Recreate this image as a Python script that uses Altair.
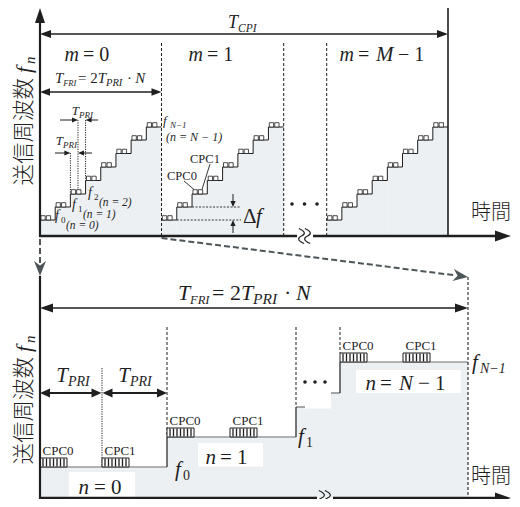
import altair as alt
import pandas as pd

INK = "#1f1f1f"
FILL = "#edf0f2"
LEVEL = "#6f6f6f"
ZOOMC = "#4e565a"
SERIF = "Liberation Serif, Times New Roman, DejaVu Serif, serif"
CJK = "Noto Sans CJK JP, Noto Sans CJK SC, sans-serif"

# ---------------- values (picture pixel units) ----------------
TOP_AXIS_Y = 236
TOP_FRAMES = ["m = 0", "m = 1", "m = M − 1"]
TOP_FRAME_X = [(40.0, 161.5), (161.5, 283.7), (326.7, 448.0)]
TOP_LEVELS = [220, 207, 194, 180.5, 167, 153.5, 140, 127]

BOT_AXIS_Y = 498
BOT_STEPS = ["n = 0", "n = 1", "n = 2", "n = N − 2", "n = N − 1"]
BOT_X = [(40, 167), (167, 296), (296, 318), (318, 340), (340, 468)]
BOT_LEVELS = [467, 437, 407, 393, 362]
CPC_X = [40, 102, 167, 230, 340, 403]
CPC_LEVEL = [467, 467, 437, 437, 362, 362]
CPC_NAMES = ["CPC0", "CPC1", "CPC0", "CPC1", "CPC0", "CPC1"]

XS = alt.Scale(domain=[8, 512], nice=False, zero=False)
YS = alt.Scale(domain=[8, 499], nice=False, zero=False, reverse=True)


def exy():
    return dict(x=alt.X("x:Q", scale=XS, axis=None), y=alt.Y("y:Q", scale=YS, axis=None))


def rule_layer(rows, color=INK, dash=None):
    df = pd.DataFrame(rows, columns=["x", "y", "x2", "y2", "w"])
    kw = {"color": color}
    if dash:
        kw["strokeDash"] = dash
    return alt.Chart(df).mark_rule(**kw).encode(
        **exy(), x2="x2:Q", y2="y2:Q", size=alt.Size("w:Q", scale=None))


def rect_layer(rows, fill, stroke=None, sw=0.0):
    df = pd.DataFrame(rows, columns=["x", "y", "x2", "y2"])
    kw = {"fill": fill, "opacity": 1}
    if stroke:
        kw.update(stroke=stroke, strokeWidth=sw)
    return alt.Chart(df).mark_rect(**kw).encode(**exy(), x2="x2:Q", y2="y2:Q")


TEXTS = []


def txt(t, x, y, s, style="italic", align="left", font=SERIF, base="alphabetic", angle=0, weight=400):
    TEXTS.append(dict(t=t, x=x, y=y, s=s, style=style, align=align, font=font, base=base,
                      angle=angle, weight=weight))


HEADS = []


def head(x, y, ang, length, half, kind="solid", color=INK):
    r = 2.0 * half / length
    if kind == "solid":
        p = f"M0,0L-2,{-r:.3f}L-2,{r:.3f}Z"
    else:
        p = f"M0,0L-2,{-r:.3f}L-1.4,0L-2,{r:.3f}Z"
    HEADS.append(dict(x=x, y=y, a=ang, shape=p, s=length ** 2, c=color))


layers = []

# ---------------- fills ----------------
fill_rows = []
nst = len(TOP_LEVELS)
for (x0, x1) in TOP_FRAME_X:
    w = (x1 - x0) / nst
    for k, L in enumerate(TOP_LEVELS):
        fill_rows.append((x0 + k * w, L, x0 + (k + 1) * w, TOP_AXIS_Y))
for (xa, xb), L in zip(BOT_X, BOT_LEVELS):
    fill_rows.append((xa, L, xb, BOT_AXIS_Y))
layers.append(rect_layer(fill_rows, FILL, FILL, 0.6))

# bottom level lines and risers
lev_rows = [(xa, L, xb, L, 1.2) for (xa, xb), L in zip(BOT_X, BOT_LEVELS)]
layers.append(rule_layer(lev_rows, LEVEL))
ris_rows = [(BOT_X[i][1], BOT_LEVELS[i], BOT_X[i][1], BOT_LEVELS[i + 1], 1.2) for i in range(len(BOT_X) - 1)]
layers.append(rule_layer(ris_rows, INK))

# white label boxes
layers.append(rect_layer([(69, 472, 135, 497), (198, 443, 263, 466.5), (356, 370, 461, 393),
                          (305, 366, 331, 408.5)], "white"))

# ---------------- dashed / dotted lines ----------------
f1x0, f1x1 = TOP_FRAME_X[1]
w1 = (f1x1 - f1x0) / nst
dash_rows = [(x, 43, x, TOP_AXIS_Y, 1.0) for x in (161.5, 283.7, 326.7)]
dash_rows += [(468, 277, 468, BOT_AXIS_Y, 1.1), (167, 327, 167, 437, 1.0), (296, 327, 296, 407, 1.0),
              (340, 327, 340, 353, 1.0)]
layers.append(rule_layer(dash_rows, INK, [3, 2]))

f0x0, f0x1 = TOP_FRAME_X[0]
w0 = (f0x1 - f0x0) / nst
b2 = f0x0 + 2 * w0
mid2 = b2 + w0 / 2
b3 = f0x0 + 3 * w0
dot_rows = [(b2, 153, b2, TOP_LEVELS[2], 1.0), (mid2, 120, mid2, TOP_LEVELS[2], 1.0),
            (b3, 120, b3, TOP_LEVELS[3], 1.0), (102, 368, 102, 467, 1.0)]
layers.append(rule_layer(dot_rows, INK, [1.2, 1.2]))

df_rows = [(f1x0 + 2 * w1, TOP_LEVELS[1], 241, TOP_LEVELS[1], 0.9),
           (f1x0 + w1, TOP_LEVELS[0], 241, TOP_LEVELS[0], 0.9)]
layers.append(rule_layer(df_rows, INK, [2, 1.5]))

zoom_rows = [(40, 239, 40, 263, 2.0), (161.5, 238, 455, 275.3, 2.0)]
layers.append(rule_layer(zoom_rows, ZOOMC, [6, 3]))
head(40, 276, 90, 15, 6, "stealth", ZOOMC)
head(468, 277, 7.4, 15, 6, "stealth", ZOOMC)

# ---------------- staircases (top) ----------------
pts = []
for f, (x0, x1) in enumerate(TOP_FRAME_X):
    w = (x1 - x0) / nst
    i = 0
    for k, L in enumerate(TOP_LEVELS):
        pts.append(dict(g=f, i=i, x=x0 + k * w, y=L)); i += 1
        pts.append(dict(g=f, i=i, x=x0 + (k + 1) * w, y=L)); i += 1
layers.append(alt.Chart(pd.DataFrame(pts)).mark_line(color=INK, strokeWidth=1).encode(
    **exy(), detail="g:N", order="i:Q"))

# small CPC squares on every step (top)
sq_rows = []
for (x0, x1) in TOP_FRAME_X:
    w = (x1 - x0) / nst
    for k, L in enumerate(TOP_LEVELS):
        sx = x0 + k * w
        sq_rows.append((sx + 0.9, L - 4.3, sx + 5.2, L))
        sq_rows.append((sx + 6.3, L - 4.3, sx + 10.6, L))
layers.append(rect_layer(sq_rows, "white", INK, 0.8))

# hatched CPC blocks (bottom)
blk_rows = [(x, L - 9, x + 27, L) for x, L in zip(CPC_X, CPC_LEVEL)]
layers.append(rect_layer(blk_rows, "white", INK, 1.0))
stripe_rows = []
for x, L in zip(CPC_X, CPC_LEVEL):
    for j in range(7):
        xs = x + 3.0 + j * 3.5
        stripe_rows.append((xs, L - 8.5, xs, L - 0.5, 1.3))
layers.append(rule_layer(stripe_rows, INK))

# ---------------- solid lines: axes, arrows, leaders ----------------
solid = [
    (40, 22, 40, 237, 2.2),
    (39, TOP_AXIS_Y, 297, TOP_AXIS_Y, 2.4), (313, TOP_AXIS_Y, 498, TOP_AXIS_Y, 2.4),
    (448, 8, 448, TOP_AXIS_Y, 1.6),
    (44, 34, 444, 34, 1.3),
    (44, 92, 157, 92, 1.3),
    (60, 120, mid2 - 4, 120, 1.0), (98, 120, b3 + 4, 120, 1.0),
    (55, 153, b2 - 4, 153, 1.0), (92, 153, mid2 + 4, 153, 1.0),
    (233, 194, 233, 203, 1.0), (233, 233, 233, 224, 1.0),
    (184, 181, 194, 189.5, 0.9), (210, 164, 202, 189.5, 0.9),
    (40, 276, 40, 499, 2.2),
    (39, BOT_AXIS_Y, 317, BOT_AXIS_Y, 2.4), (333, BOT_AXIS_Y, 498, BOT_AXIS_Y, 2.4),
    (46, 308, 462, 308, 1.4),
    (46, 393, 96, 393, 2.0), (108, 393, 161, 393, 2.0),
]
layers.append(rule_layer(solid, INK))

# arrowheads
head(40, 8, 270, 15, 5)
head(511, TOP_AXIS_Y, 0, 16, 5.5)
head(511, BOT_AXIS_Y, 0, 16, 5.5)
head(40, 34, 180, 11, 4)
head(448, 34, 0, 11, 4)
head(40, 92, 180, 10, 3.8)
head(161.5, 92, 0, 10, 3.8)
head(mid2, 120, 0, 6, 2.6)
head(b3, 120, 180, 6, 2.6)
head(b2, 153, 0, 6, 2.6)
head(mid2, 153, 180, 6, 2.6)
head(233, TOP_LEVELS[1], 90, 6, 2.6)
head(233, TOP_LEVELS[0], 270, 6, 2.6)
head(40, 308, 180, 13, 4.5)
head(468, 308, 0, 13, 4.5)
head(40, 393, 180, 10, 4.6)
head(101.5, 393, 0, 10, 4.6)
head(102.5, 393, 180, 10, 4.6)
head(167, 393, 0, 10, 4.6)
layers.append(alt.Chart(pd.DataFrame(HEADS)).mark_point(filled=True, opacity=1, strokeWidth=0).encode(
    **exy(), shape=alt.Shape("shape:N", scale=None), size=alt.Size("s:Q", scale=None),
    angle=alt.Angle("a:Q", scale=None), color=alt.Color("c:N", scale=None)))

# axis breaks
brk = pd.DataFrame(dict(x=[301.5, 307.5, 321.5, 327.5], y=[TOP_AXIS_Y] * 2 + [BOT_AXIS_Y] * 2))
layers.append(alt.Chart(brk).mark_point(
    shape="M-0.35,-1C0.55,-0.6 0.55,-0.25 0,0C-0.55,0.25 -0.55,0.6 0.35,1",
    size=225, filled=False, color=INK, strokeWidth=1.2, opacity=1).encode(**exy()))

# ellipsis dots
dots = pd.DataFrame(dict(x=[292, 304.5, 317, 305, 315, 325], y=[204, 204, 204, 382, 382, 382]))
layers.append(alt.Chart(dots).mark_point(shape="circle", filled=True, size=13, color=INK, opacity=1).encode(**exy()))

# ---------------- texts ----------------
# T_CPI
txt("T", 238, 28, 18, align="right")
txt("CPI", 238, 32, 11.5)
# m labels
txt("m", 79, 61, 20, align="right"); txt("= 0", 83, 61, 20, style="normal")
txt("m", 203, 61, 20, align="right"); txt("= 1", 207, 61, 20, style="normal")
txt("m", 354, 61, 20, align="right"); txt("=", 358, 61, 20, style="normal")
txt("M", 376, 61, 21); txt("− 1", 398, 61, 20, style="normal")

# T_FRI = 2T_PRI · N  (bottom full size, top scaled copy)
FRI_PIECES = [("T", 0, 0, 22, "italic"), ("FRI", 12, 4, 12.5, "italic"), ("=", 34, 0, 22, "normal"),
              ("2", 52, 0, 22, "normal"), ("T", 63, 0, 22, "italic"), ("PRI", 75, 4, 15.5, "italic"),
              ("·", 106, 0, 22, "normal"), ("N", 118, 0, 22, "italic")]
for (ox, oy, sc) in [(178, 300, 1.0), (55, 83, 0.68)]:
    for t, dx, dy, s, st in FRI_PIECES:
        txt(t, ox + dx * sc, oy + dy * sc, s * sc, style=st)

# top T_PRI labels
txt("T", 79, 115, 13, align="right"); txt("PRI", 79, 118, 9)
txt("T", 63, 145, 13, align="right"); txt("PRI", 63, 148, 9)
# f labels top
for (fx, fy, d) in [(55, 220, "0"), (72, 209, "1"), (88, 197, "2")]:
    txt("f", fx, fy, 14)
    txt(d, fx + 6, fy + 3, 9, style="normal")
    txt(f"(n = {d})", fx + 11, fy + 9, 11.5)
txt("f", 163, 125, 13); txt("N−1", 170, 128, 9); txt("(n = N − 1)", 166, 141, 12)
txt("CPC1", 190, 163, 12.5, style="normal"); txt("CPC0", 167, 180, 12.5, style="normal")
txt("Δ", 243, 223, 21, style="normal"); txt("f", 256, 223, 21)

# bottom labels
txt("T", 68, 382, 21, align="right"); txt("PRI", 68, 386, 14)
txt("T", 130, 382, 21, align="right"); txt("PRI", 130, 386, 14)
for name, x, L in zip(CPC_NAMES, CPC_X, CPC_LEVEL):
    txt(name, x + 2.5, L - 12, 13, style="normal")
txt("n", 89, 494, 21, align="right"); txt("= 0", 94, 494, 21, style="normal")
txt("n", 216, 464, 21, align="right"); txt("= 1", 220, 464, 21, style="normal")
txt("n", 376, 390, 21, align="right"); txt("=", 380, 390, 21, style="normal")
txt("N", 399, 390, 21); txt("− 1", 418, 390, 21, style="normal")
txt("f", 175, 476, 21); txt("0", 183, 480, 14, style="normal")
txt("f", 298, 443, 21); txt("1", 306, 447, 14, style="normal")
txt("f", 472, 369, 21); txt("N−1", 480, 373, 14)

# Japanese axis titles
for yy in (213, 477):
    txt("時間", 491, yy, 20, style="normal", align="center", font=CJK, base="middle", weight=300)
for (yc, yf, yn) in [(78, 73, 64), (357, 352, 343)]:
    txt("送信周波数", 31, yc, 21.5, style="normal", align="right", font=CJK, angle=270, weight=300)
    txt("f", 31, yf, 22, angle=270)
    txt("n", 35, yn, 15, angle=270)

tdf = pd.DataFrame(TEXTS)
for key, g in tdf.groupby(["style", "align", "font", "base", "angle", "weight"]):
    style, align, font, base, angle, weight = key
    layers.append(alt.Chart(g[["t", "x", "y", "s"]].reset_index(drop=True)).mark_text(
        font=font, fontStyle=style, fontWeight=int(weight), align=align, baseline=base,
        angle=float(angle), color=INK).encode(
        **exy(), text="t:N", size=alt.Size("s:Q", scale=None)))

chart = alt.layer(*layers).properties(
    width=504, height=491, padding=0, autosize=alt.AutoSizeParams(type="none")
).configure_view(stroke=None)

chart.save("out.html", embed_options={"renderer": "svg", "actions": False})
